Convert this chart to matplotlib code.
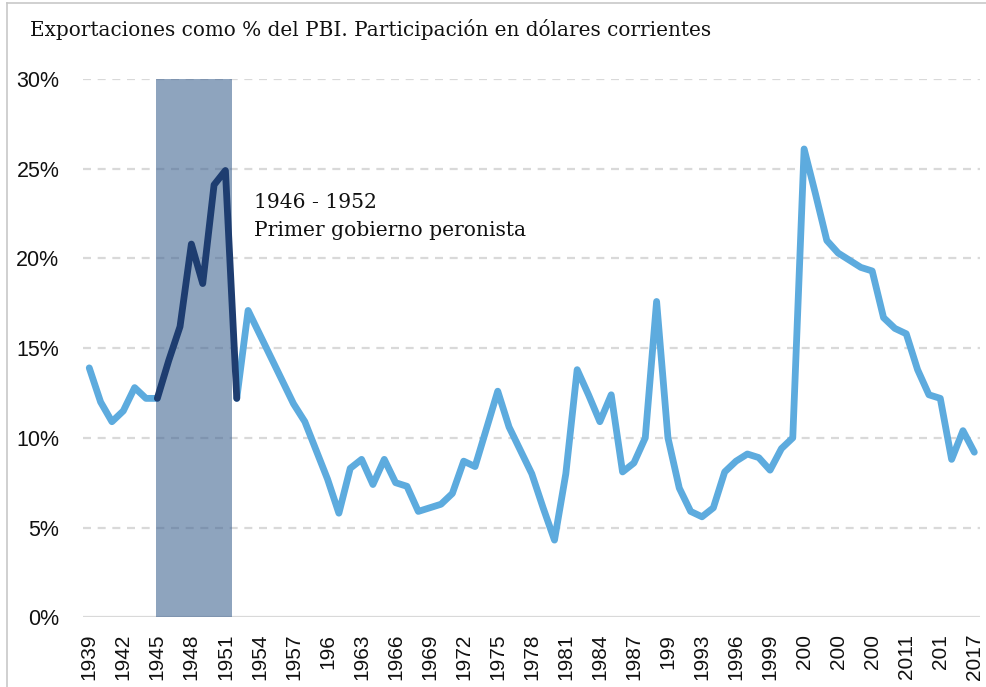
import matplotlib
matplotlib.use("Agg")
import matplotlib.pyplot as plt
from matplotlib.lines import Line2D

# datos
years = list(range(1939, 2018))
exports = [
    13.9, 12.0, 10.9, 11.5, 12.8, 12.2, 12.2,            # 1939-1945
    14.3, 16.2, 20.8, 18.6, 24.1, 24.9, 12.2,            # 1946-1952
    17.1, 15.8, 14.5, 13.2, 11.9, 10.9, 9.3, 7.7, 5.8,   # 1953-1961
    8.3, 8.8, 7.4, 8.8, 7.5, 7.3, 5.9, 6.1, 6.3, 6.9,    # 1962-1971
    8.7, 8.4, 10.5, 12.6, 10.6, 9.3, 8.0, 6.1, 4.3,      # 1972-1980
    8.0, 13.8, 12.4, 10.9, 12.4, 8.1, 8.6, 10.0, 17.6,   # 1981-1989
    10.0, 7.2, 5.9, 5.6, 6.1, 8.1, 8.7, 9.1, 8.9, 8.2,   # 1990-1999
    9.4, 10.0, 26.1, 23.6, 21.0, 20.3, 19.9, 19.5, 19.3, # 2000-2008
    16.7, 16.1, 15.8, 13.8, 12.4, 12.2, 8.8, 10.4, 9.2,  # 2009-2017
]
peron_start, peron_end = 1945, 1952
tick_years = list(range(1939, 2018, 3))
tick_labels = ["1939", "1942", "1945", "1948", "1951", "1954", "1957", "196",
               "1963", "1966", "1969", "1972", "1975", "1978", "1981", "1984",
               "1987", "199", "1993", "1996", "1999", "200", "200", "200",
               "2011", "201", "2017"]
y_ticks = [0, 5, 10, 15, 20, 25, 30]

light = "#5DABDE"
dark = "#1E3D70"
grid_c = "#D9D9D9"

fig = plt.figure(figsize=(9.87, 6.87), dpi=100)
ax = fig.add_axes([0.0841, 0.1015, 0.9088, 0.7835])

# banda del primer peronismo
ax.axvspan(1944.85, 1951.6, ymin=0, ymax=1, color="#436793", alpha=0.6,
           lw=0, zorder=2)

for v in y_ticks[1:]:
    ax.axhline(v, color=grid_c, lw=1.6, ls=(0, (3.6, 3.0)), zorder=1)
ax.axhline(0, color=grid_c, lw=1.6, zorder=1)

i0 = years.index(peron_start)
i1 = years.index(peron_end)
lw = 4.9
ax.plot(years[:i0 + 1], exports[:i0 + 1], color=light, lw=lw,
        solid_joinstyle="round", solid_capstyle="round", zorder=3)
ax.plot(years[i1:], exports[i1:], color=light, lw=lw,
        solid_joinstyle="round", solid_capstyle="round", zorder=3)
ax.plot(years[i0:i1 + 1], exports[i0:i1 + 1], color=dark, lw=lw,
        solid_joinstyle="round", solid_capstyle="round", zorder=4)

ax.set_xlim(1938.45, 2017.5)
ax.set_ylim(0, 30)
ax.set_yticks(y_ticks)
ax.set_yticklabels([f"{v}%" for v in y_ticks], fontsize=15.5,
                   family="Liberation Sans", color="#111111")
ax.set_xticks(tick_years)
ax.set_xticklabels(tick_labels, rotation=90, fontsize=15,
                   family="Liberation Sans", color="#111111")
ax.tick_params(axis="both", length=0)
ax.tick_params(axis="y", pad=17)
ax.tick_params(axis="x", pad=12)
for s in ax.spines.values():
    s.set_visible(False)

ax.text(1953.5, 23.1, "1946 - 1952", fontsize=14.6, family="DejaVu Serif",
        va="center", ha="left", color="#111111", zorder=5)
ax.text(1953.5, 21.55, "Primer gobierno peronista", fontsize=14.6,
        family="DejaVu Serif", va="center", ha="left", color="#111111",
        zorder=5)

fig.text(30 / 987, 1 - 30 / 687,
         "Exportaciones como % del PBI. Participación en dólares corrientes",
         fontsize=14.4, family="DejaVu Serif", va="center", ha="left",
         color="#111111")

# marco de la imagen
fig.add_artist(Line2D([7.5 / 987, 7.5 / 987], [0, 1 - 3 / 687],
                      transform=fig.transFigure, color="#C8C8C8", lw=1.2))
fig.add_artist(Line2D([7.5 / 987, 1], [1 - 3 / 687, 1 - 3 / 687],
                      transform=fig.transFigure, color="#C8C8C8", lw=1.2))

fig.savefig("out.png", dpi=100)
